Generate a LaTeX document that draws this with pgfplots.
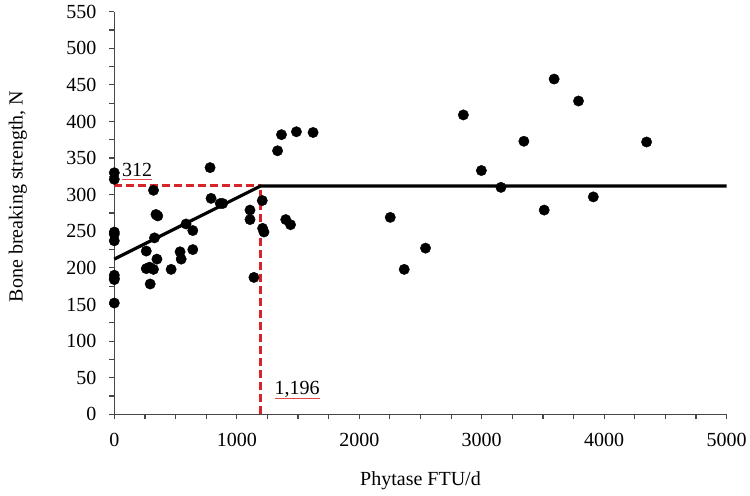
\documentclass[border=0pt]{standalone}
\usepackage{fontspec}
\setmainfont{Liberation Serif}
\usepackage{pgfplots}
\pgfplotsset{compat=1.18}
\definecolor{dashred}{RGB}{214,36,40}
\definecolor{ulred}{RGB}{226,70,70}
\definecolor{axgray}{RGB}{70,70,70}
\begin{document}
\fontsize{20bp}{24bp}\selectfont
\begin{tikzpicture}
\begin{axis}[
  name=ax,
  scale only axis,
  width=612.4bp, height=402.6bp,
  xmin=0, xmax=5000, ymin=0, ymax=550,
  axis x line=bottom, axis y line=left,
  axis line style={-, axgray, line width=1.4bp},
  xtick={0,1000,...,5000},
  ytick={0,50,...,550},
  minor x tick num=3,
  minor y tick num=1,
  tick align=outside,
  major tick length=5bp, minor tick length=5bp,
  tick style={axgray, line width=1.2bp},
  /pgf/number format/assume math mode=true,
  scaled ticks=false,
  xticklabel={\pgfmathprintnumber[fixed,1000 sep={}]{\tick}},
  yticklabel={\pgfmathprintnumber[fixed]{\tick}},
  xticklabel style={yshift=-7bp},
  yticklabel style={xshift=-6bp},
  xlabel={Phytase FTU/d},
  ylabel={Bone breaking strength, N},
  xlabel style={at={(axis description cs:0.5,-0.178)}, anchor=base},
  ylabel style={at={(axis description cs:-0.1496,0.541)}, anchor=base},
  clip=false,
]
% red dashed guide lines
\addplot[dashred, line width=3bp, dash pattern=on 8bp off 4bp] coordinates {(0,312) (1196,312)};
\addplot[dashred, line width=3bp, dash pattern=on 8bp off 4bp] coordinates {(1196,0) (1196,312)};
% broken-line fit
\addplot[black, line width=3.2bp] coordinates {(0,212) (1196,312) (5000,312)};
% observations
\addplot[only marks, mark=*, mark size=5.2bp, black, mark options={fill=black, draw=black}] coordinates {
(0,330) (0,321) (0,249) (0,246) (0,237) (0,190) (0,186) (0,184) (0,152)
(261,223) (261,199) (288,201) (293,178) (320,306) (320,198) (328,241)
(340,273) (355,271) (348,212) (464,198) (537,222) (546,212) (586,260)
(641,251) (641,225) (782,337) (790,295) (865,288) (885,288)
(1108,279) (1108,266) (1140,187) (1208,292) (1211,254) (1222,249)
(1333,360) (1365,382) (1400,266) (1439,259) (1487,386) (1623,385)
(2253,269) (2367,198) (2541,227) (2850,409) (2997,333) (3157,310)
(3344,373) (3510,279) (3591,458) (3790,428) (3911,297) (4346,372)
};
\node[anchor=base west, inner sep=0pt] (a) at (axis cs:62,324.6) {312};
\draw[ulred, line width=1bp] ([yshift=-2.6bp]a.base west) -- ([yshift=-2.6bp]a.base east);
\node[anchor=base west, inner sep=0pt] (b) at (axis cs:1308,26.4) {1,196};
\draw[ulred, line width=1bp] ([yshift=-3.3bp]b.base west) -- ([yshift=-3.3bp]b.base east);
\end{axis}
\pgfresetboundingbox
\path[use as bounding box] ([shift={(-114.3bp,-81.7bp)}]ax.south west) rectangle ([shift={(23.3bp,11.7bp)}]ax.north east);
\end{tikzpicture}
\end{document}
